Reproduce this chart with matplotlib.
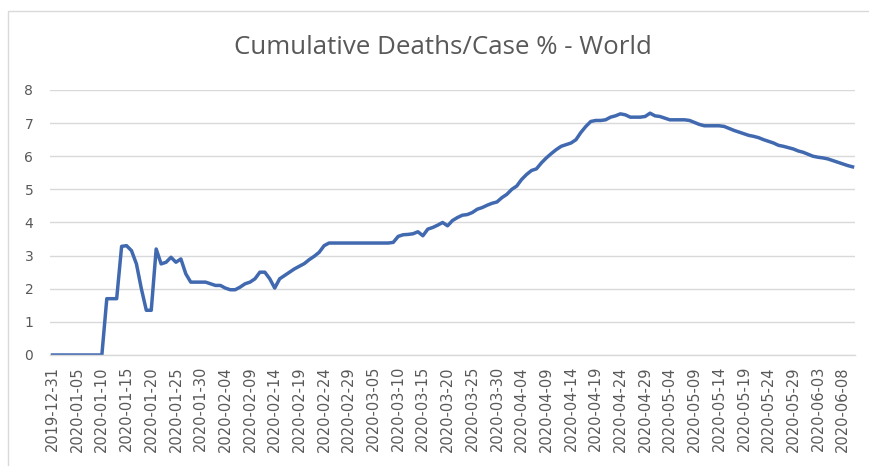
import matplotlib
matplotlib.use("Agg")
import matplotlib.pyplot as plt
from matplotlib.patches import Rectangle
import pandas as pd

title = "Cumulative Deaths/Case % - World"
start_date = "2019-12-31"

death_case_pct = [
    0, 0, 0, 0, 0, 0, 0, 0, 0, 0,            # 0-9
    0, 1.7, 1.7, 1.7, 3.28, 3.3, 3.15, 2.75, 2.0, 1.35,   # 10-19
    1.35, 3.2, 2.75, 2.8, 2.95, 2.8, 2.9, 2.45, 2.2, 2.2,  # 20-29
    2.2, 2.2, 2.15, 2.1, 2.1, 2.02, 1.97, 1.97, 2.05, 2.15,  # 30-39
    2.2, 2.3, 2.5, 2.5, 2.3, 2.02, 2.3, 2.4, 2.5, 2.6,   # 40-49
    2.68, 2.76, 2.88, 2.98, 3.1, 3.3, 3.38, 3.38, 3.38, 3.38,  # 50-59
    3.38, 3.38, 3.38, 3.38, 3.38, 3.38, 3.38, 3.38, 3.38, 3.4,  # 60-69
    3.58, 3.63, 3.64, 3.66, 3.72, 3.6, 3.8, 3.85, 3.92, 4.0,   # 70-79
    3.9, 4.06, 4.15, 4.22, 4.24, 4.3, 4.4, 4.45, 4.52, 4.58,   # 80-89
    4.62, 4.75, 4.85, 5.0, 5.1, 5.3, 5.45, 5.57, 5.62, 5.8,    # 90-99
    5.95, 6.08, 6.2, 6.3, 6.35, 6.4, 6.5, 6.72, 6.9, 7.05,     # 100-109
    7.08, 7.08, 7.1, 7.18, 7.22, 7.28, 7.25, 7.18, 7.18, 7.18,  # 110-119
    7.2, 7.3, 7.22, 7.2, 7.15, 7.1, 7.1, 7.1, 7.1, 7.08,       # 120-129
    7.02, 6.96, 6.92, 6.92, 6.92, 6.92, 6.9, 6.84, 6.78, 6.73,  # 130-139
    6.68, 6.63, 6.6, 6.56, 6.5, 6.45, 6.4, 6.33, 6.3, 6.26,    # 140-149
    6.22, 6.16, 6.12, 6.06, 6.0, 5.97, 5.95, 5.92, 5.87, 5.82,  # 150-159
    5.77, 5.72, 5.68,                                          # 160-162
]

dates = pd.date_range(start_date, periods=len(death_case_pct), freq="D")
date_labels = [d.strftime("%Y-%m-%d") for d in dates]
y_ticks = [0, 1, 2, 3, 4, 5, 6, 7, 8]

W, H = 870, 466
fig = plt.figure(figsize=(W / 100, H / 100), dpi=100)
fig.patch.set_facecolor("white")

# chart area border (right/bottom edges fall outside the image)
fig.patches.append(Rectangle((8 / W, -0.05), 1.1, (H - 11) / H + 0.05,
                             transform=fig.transFigure, fill=False,
                             edgecolor="#D9D9D9", linewidth=1.0))

ax = fig.add_axes([50 / W, (H - 355) / H, 805 / W, 265 / H])
x = list(range(len(death_case_pct)))
ax.plot(x, death_case_pct, color="#4169B0", linewidth=2.5, solid_joinstyle="round")

ax.set_xlim(-0.5, len(death_case_pct) - 0.5)
ax.set_ylim(0, 8)
ax.set_yticks(y_ticks)
ax.set_yticklabels([str(v) for v in y_ticks], color="#595959", fontsize=10,
                   family="DejaVu Sans")
tick_pos = x[::5]
ax.set_xticks(tick_pos)
ax.set_xticklabels([date_labels[i] for i in tick_pos], rotation=90,
                   color="#595959", fontsize=10.5, family="DejaVu Sans")
ax.tick_params(axis="both", length=0)
ax.tick_params(axis="y", pad=12)
ax.tick_params(axis="x", pad=8)

ax.grid(axis="y", color="#D9D9D9", linewidth=1.0)
ax.set_axisbelow(True)
for s in ["top", "right", "left"]:
    ax.spines[s].set_visible(False)
ax.spines["bottom"].set_color("#D9D9D9")
ax.spines["bottom"].set_linewidth(1.0)

t = fig.text(443 / W, (H - 47) / H, title, ha="center", va="center",
             fontsize=16, color="#595959", family="Open Sans")
# scale title to the reference width (~417 px)
fig.canvas.draw()
w = t.get_window_extent().width
t.set_fontsize(16 * 417 / w)

fig.savefig("out.png", dpi=100)
